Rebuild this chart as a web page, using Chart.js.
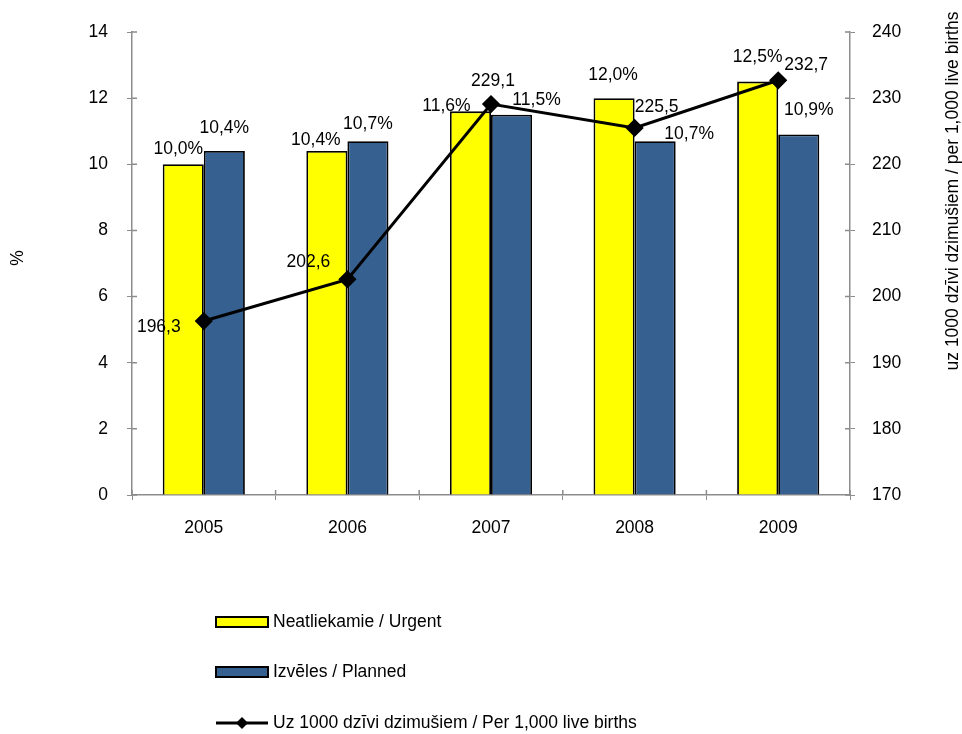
<!DOCTYPE html>
<html>
<head>
<meta charset="utf-8">
<script src="https://cdn.jsdelivr.net/npm/chart.js@4"></script>
<style>
  html, body { margin: 0; padding: 0; background: #fff; }
  #wrap { width: 962px; height: 734px; }
</style>
</head>
<body>
<div id="wrap"><canvas id="c" width="962" height="734"></canvas></div>
<script>
const categories = ['2005', '2006', '2007', '2008', '2009'];
const urgent = [10.0, 10.4, 11.6, 12.0, 12.5];
const planned = [10.4, 10.7, 11.5, 10.7, 10.9];
const perThousand = [196.3, 202.6, 229.1, 225.5, 232.7];
const seriesNames = ['Neatliekamie / Urgent', 'Izvēles / Planned', 'Uz 1000 dzīvi dzimušiem / Per 1,000 live births'];
const leftTicks = [0, 2, 4, 6, 8, 10, 12, 14];
const rightTicks = [170, 180, 190, 200, 210, 220, 230, 240];
const leftTitle = '%';
const rightTitle = 'uz 1000 dzīvi dzimušiem / per 1,000 live births';

const FONT = '"Liberation Sans", Arial, sans-serif';
const FS = 17.5;
const YELLOW = '#FFFF00';
const BLUE = '#36608F';
const AXIS = '#8C8C8C';

// label offsets (pixels) relative to each mark, per dataset
const labelOffsets = [
  [[-5, -15], [-11, -11], [-24, -5], [-1, -23], [0, -24]],
  [[0, -23], [0, -17], [25, -15], [34, -7], [10, -24]],
  [[-45, 6], [-39, -17], [2, -23], [22, -21], [28, -15]]
];

function fmt(v, pct) {
  return v.toFixed(1).replace('.', ',') + (pct ? '%' : '');
}

const labelsPlugin = {
  id: 'customLabels',
  beforeDatasetsDraw(chart) {
    // inner halves of the tick marks (ticks cross the axis lines)
    const ctx = chart.ctx;
    const a = chart.chartArea;
    ctx.save();
    ctx.strokeStyle = AXIS;
    ctx.lineWidth = 1.5;
    ctx.beginPath();
    const y = chart.scales.y, y1 = chart.scales.y1, x = chart.scales.x;
    y.ticks.forEach((t, i) => { const p = y.getPixelForTick(i); ctx.moveTo(a.left, p); ctx.lineTo(a.left + 5, p); });
    y1.ticks.forEach((t, i) => { const p = y1.getPixelForTick(i); ctx.moveTo(a.right - 5, p); ctx.lineTo(a.right, p); });
    const n = categories.length;
    for (let i = 0; i <= n; i++) {
      const p = a.left + (a.right - a.left) * i / n;
      ctx.moveTo(p, a.bottom - 5); ctx.lineTo(p, a.bottom);
    }
    ctx.stroke();
    ctx.restore();
  },
  afterDatasetsDraw(chart) {
    const ctx = chart.ctx;
    ctx.save();
    ctx.font = FS + 'px ' + FONT;
    ctx.fillStyle = '#000';
    ctx.textAlign = 'center';
    ctx.textBaseline = 'middle';
    chart.data.datasets.forEach((ds, di) => {
      const meta = chart.getDatasetMeta(di);
      meta.data.forEach((el, i) => {
        const off = labelOffsets[di][i];
        ctx.fillText(fmt(ds.data[i], di < 2), el.x + off[0], el.y + off[1]);
      });
    });
    ctx.restore();
  },
  afterDraw(chart) {
    const ctx = chart.ctx;
    ctx.save();
    ctx.font = FS + 'px ' + FONT;
    ctx.fillStyle = '#000';
    ctx.textAlign = 'center';
    ctx.textBaseline = 'middle';
    ctx.save();
    ctx.translate(18, 258);
    ctx.rotate(-Math.PI / 2);
    ctx.fillText(leftTitle, 0, 0);
    ctx.restore();
    ctx.save();
    ctx.translate(953, 191);
    ctx.rotate(-Math.PI / 2);
    ctx.fillText(rightTitle, 0, 0);
    ctx.restore();
    // legend
    const x0 = 216, sw = 52, tx = 273;
    const ys = [622, 672, 723];
    const fills = [YELLOW, BLUE];
    ctx.textAlign = 'left';
    ctx.textBaseline = 'middle';
    for (let i = 0; i < 2; i++) {
      ctx.fillStyle = fills[i];
      ctx.fillRect(x0, ys[i] - 5, sw, 10);
      ctx.strokeStyle = '#000';
      ctx.lineWidth = 2;
      ctx.strokeRect(x0, ys[i] - 5, sw, 10);
      ctx.fillStyle = '#000';
      ctx.fillText(seriesNames[i], tx, ys[i]);
    }
    ctx.strokeStyle = '#000';
    ctx.lineWidth = 3;
    ctx.beginPath();
    ctx.moveTo(x0, ys[2]);
    ctx.lineTo(x0 + sw, ys[2]);
    ctx.stroke();
    const cx = x0 + sw / 2, cy = ys[2], r = 6;
    ctx.fillStyle = '#000';
    ctx.beginPath();
    ctx.moveTo(cx, cy - r); ctx.lineTo(cx + r, cy); ctx.lineTo(cx, cy + r); ctx.lineTo(cx - r, cy);
    ctx.closePath(); ctx.fill();
    ctx.fillText(seriesNames[2], tx, ys[2]);
    ctx.restore();
  }
};

new Chart(document.getElementById('c'), {
  data: {
    labels: categories,
    datasets: [
      { type: 'bar', label: seriesNames[0], data: urgent, backgroundColor: YELLOW, borderColor: '#000', borderWidth: 1.8, yAxisID: 'y', order: 1, categoryPercentage: 0.572, barPercentage: 1 },
      { type: 'bar', label: seriesNames[1], data: planned, backgroundColor: BLUE, borderColor: '#000', borderWidth: 1.8, yAxisID: 'y', order: 1, categoryPercentage: 0.572, barPercentage: 1 },
      { type: 'line', label: seriesNames[2], data: perThousand, borderColor: '#000', borderWidth: 3, pointStyle: 'rectRot', pointRadius: 7, pointHoverRadius: 7, pointBackgroundColor: '#000', pointBorderColor: '#000', yAxisID: 'y1', order: 0, tension: 0 }
    ]
  },
  options: {
    responsive: false,
    animation: false,
    events: [],
    layout: { padding: { top: 32, left: 0, right: 0, bottom: 0 } },
    plugins: { legend: { display: false }, tooltip: { enabled: false } },
    scales: {
      x: {
        offset: true,
        grid: { display: true, drawOnChartArea: false, drawTicks: true, tickLength: 5, color: AXIS, offset: true },
        border: { display: true, color: AXIS, width: 1.5 },
        ticks: { color: '#000', font: { family: FONT, size: FS }, padding: 18 },
        afterFit(s) { s.height = 239; }
      },
      y: {
        position: 'left',
        min: 0, max: 14,
        afterBuildTicks(s) { s.ticks = leftTicks.map(v => ({ value: v })); },
        grid: { display: true, drawOnChartArea: false, drawTicks: true, tickLength: 5, color: AXIS },
        border: { display: true, color: AXIS, width: 1.5 },
        ticks: { color: '#000', font: { family: FONT, size: FS }, padding: 19 },
        afterFit(s) { s.width = 132; }
      },
      y1: {
        position: 'right',
        min: 170, max: 240,
        afterBuildTicks(s) { s.ticks = rightTicks.map(v => ({ value: v })); },
        grid: { display: true, drawOnChartArea: false, drawTicks: true, tickLength: 5, color: AXIS },
        border: { display: true, color: AXIS, width: 1.5 },
        ticks: { color: '#000', font: { family: FONT, size: FS }, padding: 17 },
        afterFit(s) { s.width = 112; }
      }
    }
  },
  plugins: [labelsPlugin]
});
</script>
</body>
</html>
